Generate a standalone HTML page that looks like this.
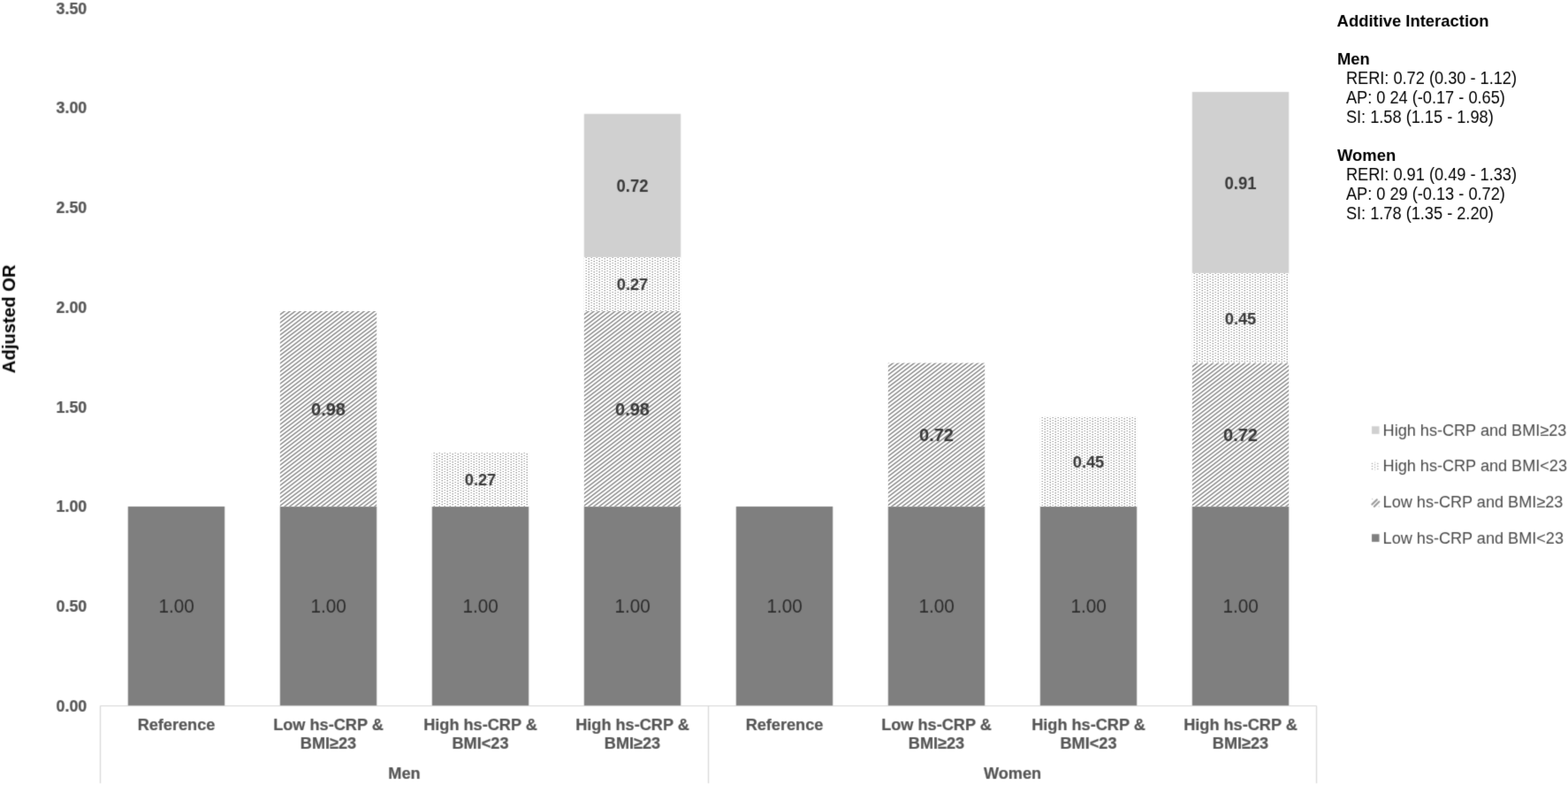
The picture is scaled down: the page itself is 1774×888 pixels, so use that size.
<!DOCTYPE html>
<html lang="en">
<head>
<meta charset="utf-8">
<title>Adjusted OR by hs-CRP and BMI</title>
<style>
html,body{margin:0;padding:0;background:#fff;}
body{width:1774px;height:888px;overflow:hidden;}
svg{display:block;}
text{font-family:"Liberation Sans",sans-serif;}
.ax{font-size:19.0px;font-weight:bold;fill:#555555;text-anchor:end;stroke:#555555;stroke-width:0.22px;}
.cat{font-size:18.8px;font-weight:bold;fill:#555555;text-anchor:middle;stroke:#555555;stroke-width:0.22px;}
.lh{font-size:20.9px;font-weight:bold;fill:#383838;text-anchor:middle;}
.ld{font-size:19.1px;font-weight:bold;fill:#383838;text-anchor:middle;}
.ll{font-size:19.8px;font-weight:bold;fill:#383838;text-anchor:middle;}
.one{font-size:22.0px;font-weight:normal;fill:#2b2b2b;text-anchor:middle;}
.leg{font-size:18.2px;font-weight:normal;fill:#484848;text-anchor:start;}
.rt{font-size:19.4px;font-weight:normal;fill:#000;text-anchor:start;}
.rtb{font-size:19.0px;font-weight:bold;fill:#000;text-anchor:start;}
.yt{font-size:20.3px;font-weight:bold;fill:#000;text-anchor:middle;}
</style>
</head>
<body>
<svg width="1774" height="888" viewBox="0 0 1774 888">
<defs>
<filter id="soft" x="0" y="0" width="1774" height="888" filterUnits="userSpaceOnUse" color-interpolation-filters="sRGB"><feConvolveMatrix order="3" kernelMatrix="0.02768 0.11101 0.02768 0.11101 0.44521 0.11101 0.02768 0.11101 0.02768" divisor="1" edgeMode="duplicate" preserveAlpha="true"/></filter>
<filter id="softp" x="0" y="0" width="1774" height="888" filterUnits="userSpaceOnUse" color-interpolation-filters="sRGB"><feConvolveMatrix order="3" kernelMatrix="0.00276 0.04704 0.00276 0.04704 0.80077 0.04704 0.00276 0.04704 0.00276" divisor="1" edgeMode="duplicate" preserveAlpha="false"/></filter>
<filter id="softt" x="0" y="0" width="1774" height="888" filterUnits="userSpaceOnUse" color-interpolation-filters="sRGB"><feConvolveMatrix order="3" kernelMatrix="0.01917 0.10012 0.01917 0.10012 0.52283 0.10012 0.01917 0.10012 0.01917" divisor="1" edgeMode="duplicate" preserveAlpha="false"/></filter>
<filter id="softr" x="0" y="0" width="1774" height="888" filterUnits="userSpaceOnUse" color-interpolation-filters="sRGB"><feConvolveMatrix order="3" kernelMatrix="0.00524 0.06192 0.00524 0.06192 0.73137 0.06192 0.00524 0.06192 0.00524" divisor="1" edgeMode="duplicate" preserveAlpha="false"/></filter>
<pattern id="hatch" width="12" height="23" patternUnits="userSpaceOnUse" patternTransform="translate(-0.9 0)">
<rect width="12" height="23" fill="#fff"/>
<path d="M-6,4.60 L6,-4.6 M-6,9.20 L12,-4.6 M-6,13.80 L18,-4.6 M-6,18.40 L24,-4.6 M-6,23.00 L30,-4.6 M-6,27.60 L36,-4.6 M-6,32.20 L42,-4.6 M-6,36.80 L48,-4.6" stroke="#969696" stroke-width="1.62" fill="none"/>
</pattern>
<pattern id="dots" width="6" height="3" patternUnits="userSpaceOnUse">
<rect width="6" height="3" fill="#fff"/>
<rect x="1.45" y="-0.05" width="1.5" height="1.15" rx="0.4" fill="#a2a2a2"/>
<rect x="4.5" y="1.1" width="1.35" height="1.3" rx="0.4" fill="#8e8e8e"/>
</pattern>
</defs>
<g filter="url(#soft)">
<rect width="1774" height="888" fill="#fff"/>
<rect x="144.8" y="573.0" width="109.4" height="225.5" fill="#7f7f7f"/>
<rect x="316.8" y="573.0" width="109.4" height="225.5" fill="#7f7f7f"/>
<rect x="488.8" y="573.0" width="109.4" height="225.5" fill="#7f7f7f"/>
<rect x="660.8" y="573.0" width="109.4" height="225.5" fill="#7f7f7f"/>
<rect x="660.8" y="128.8" width="109.4" height="162.4" fill="#d0d0d0"/>
<rect x="832.8" y="573.0" width="109.4" height="225.5" fill="#7f7f7f"/>
<rect x="1004.8" y="573.0" width="109.4" height="225.5" fill="#7f7f7f"/>
<rect x="1176.8" y="573.0" width="109.4" height="225.5" fill="#7f7f7f"/>
<rect x="1348.8" y="573.0" width="109.4" height="225.5" fill="#7f7f7f"/>
<rect x="1348.8" y="104.0" width="109.4" height="205.2" fill="#d0d0d0"/>
<path d="M113.5,798.5 H1489.5 M113.5,798.5 V886 M801.5,798.5 V886 M1489.5,798.5 V886" stroke="#d4d4d4" stroke-width="1.2" fill="none"/>
<rect x="1552" y="482.2" width="8.5" height="8.7" fill="#d0d0d0"/>
<rect x="1552" y="604.2" width="8.5" height="8.7" fill="#7f7f7f"/>
</g>
<g filter="url(#softp)">
<g transform="translate(317 352)"><rect x="-0.2" y="0.0" width="109.4" height="221.0" fill="url(#hatch)"/></g>
<g transform="translate(489 512)"><rect x="-0.2" y="0.1" width="109.4" height="60.9" fill="url(#dots)"/></g>
<g transform="translate(661 352)"><rect x="-0.2" y="0.0" width="109.4" height="221.0" fill="url(#hatch)"/></g>
<g transform="translate(661 291)"><rect x="-0.2" y="0.1" width="109.4" height="60.9" fill="url(#dots)"/></g>
<g transform="translate(1005 411)"><rect x="-0.2" y="-0.4" width="109.4" height="162.4" fill="url(#hatch)"/></g>
<g transform="translate(1177 472)"><rect x="-0.2" y="-0.5" width="109.4" height="101.5" fill="url(#dots)"/></g>
<g transform="translate(1349 411)"><rect x="-0.2" y="-0.4" width="109.4" height="162.4" fill="url(#hatch)"/></g>
<g transform="translate(1349 309)"><rect x="-0.2" y="0.2" width="109.4" height="101.5" fill="url(#dots)"/></g>
</g>
<g filter="url(#softt)">
<text class="one" transform="translate(199.50 693.20) scale(0.94 1)">1.00</text>
<text class="one" transform="translate(371.50 693.20) scale(0.94 1)">1.00</text>
<text class="lh" transform="translate(371.50 469.61) scale(0.957 1)">0.98</text>
<text class="one" transform="translate(543.50 693.20) scale(0.94 1)">1.00</text>
<text class="ld" transform="translate(543.50 549.46) scale(0.957 1)">0.27</text>
<text class="one" transform="translate(715.50 693.20) scale(0.94 1)">1.00</text>
<text class="lh" transform="translate(715.50 469.61) scale(0.957 1)">0.98</text>
<text class="ld" transform="translate(715.50 328.47) scale(0.957 1)">0.27</text>
<text class="ll" transform="translate(715.50 217.10) scale(0.934 1)">0.72</text>
<text class="one" transform="translate(887.50 693.20) scale(0.94 1)">1.00</text>
<text class="one" transform="translate(1059.50 693.20) scale(0.94 1)">1.00</text>
<text class="lh" transform="translate(1059.50 498.92) scale(0.957 1)">0.72</text>
<text class="one" transform="translate(1231.50 693.20) scale(0.94 1)">1.00</text>
<text class="ld" transform="translate(1231.50 529.16) scale(0.957 1)">0.45</text>
<text class="one" transform="translate(1403.50 693.20) scale(0.94 1)">1.00</text>
<text class="lh" transform="translate(1403.50 498.92) scale(0.957 1)">0.72</text>
<text class="ld" transform="translate(1403.50 366.80) scale(0.957 1)">0.45</text>
<text class="ll" transform="translate(1403.50 213.71) scale(0.934 1)">0.91</text>
<text class="ax" transform="translate(98.30 804.80) scale(0.94 1)">0.00</text>
<text class="ax" transform="translate(98.30 692.05) scale(0.94 1)">0.50</text>
<text class="ax" transform="translate(98.30 579.30) scale(0.94 1)">1.00</text>
<text class="ax" transform="translate(98.30 466.55) scale(0.94 1)">1.50</text>
<text class="ax" transform="translate(98.30 353.80) scale(0.94 1)">2.00</text>
<text class="ax" transform="translate(98.30 241.05) scale(0.94 1)">2.50</text>
<text class="ax" transform="translate(98.30 128.30) scale(0.94 1)">3.00</text>
<text class="ax" transform="translate(98.30 15.55) scale(0.94 1)">3.50</text>
<text class="cat" transform="translate(199.50 826.20) scale(0.965 1)">Reference</text>
<text class="cat" transform="translate(371.50 826.20) scale(0.965 1)">Low hs-CRP &amp;</text>
<text class="cat" transform="translate(371.50 847.40) scale(0.965 1)">BMI≥23</text>
<text class="cat" transform="translate(543.50 826.20) scale(0.965 1)">High hs-CRP &amp;</text>
<text class="cat" transform="translate(543.50 847.40) scale(0.965 1)">BMI&lt;23</text>
<text class="cat" transform="translate(715.50 826.20) scale(0.965 1)">High hs-CRP &amp;</text>
<text class="cat" transform="translate(715.50 847.40) scale(0.965 1)">BMI≥23</text>
<text class="cat" transform="translate(887.50 826.20) scale(0.965 1)">Reference</text>
<text class="cat" transform="translate(1059.50 826.20) scale(0.965 1)">Low hs-CRP &amp;</text>
<text class="cat" transform="translate(1059.50 847.40) scale(0.965 1)">BMI≥23</text>
<text class="cat" transform="translate(1231.50 826.20) scale(0.965 1)">High hs-CRP &amp;</text>
<text class="cat" transform="translate(1231.50 847.40) scale(0.965 1)">BMI&lt;23</text>
<text class="cat" transform="translate(1403.50 826.20) scale(0.965 1)">High hs-CRP &amp;</text>
<text class="cat" transform="translate(1403.50 847.40) scale(0.965 1)">BMI≥23</text>
<text class="cat" transform="translate(457.50 880.50) scale(0.965 1)">Men</text>
<text class="cat" transform="translate(1145.50 880.50) scale(0.965 1)">Women</text>
<text class="yt" transform="translate(17.00 360.80) rotate(-90)">Adjusted OR</text>
<text class="leg" transform="translate(1564.60 492.70) scale(0.995 1)">High hs-CRP and BMI≥23</text>
<g transform="translate(1552 522.2)" fill="#9a9a9a"><circle cx="0.5" cy="2.2" r="0.72"/><circle cx="0.5" cy="5.2" r="0.72"/><circle cx="0.5" cy="8.3" r="0.72"/><circle cx="6.8" cy="2.2" r="0.72"/><circle cx="6.8" cy="5.2" r="0.72"/><circle cx="6.8" cy="8.3" r="0.72"/><circle cx="3.6" cy="0.9" r="0.72" fill-opacity="0.6"/><circle cx="3.6" cy="3.6" r="0.72" fill-opacity="0.85"/><circle cx="3.6" cy="6.5" r="0.72" fill-opacity="0.85"/><circle cx="3.6" cy="9.2" r="0.72" fill-opacity="0.4"/></g>
<text class="leg" transform="translate(1564.60 532.80) scale(0.995 1)">High hs-CRP and BMI&lt;23</text>
<g transform="translate(1552 564.0)" stroke="#9a9a9a" stroke-width="2.1" stroke-linecap="round" fill="none"><path d="M0.3,6.6 L5.8,1.2 M2.8,8.9 L8.3,3.6"/><path d="M0.5,0.6 l0.2,-0.2 M8.1,9.0 l0.2,-0.2" stroke="#c4c4c4" stroke-width="1.2"/></g>
<text class="leg" transform="translate(1564.60 573.90) scale(0.995 1)">Low hs-CRP and BMI≥23</text>
<text class="leg" transform="translate(1564.60 614.60) scale(0.995 1)">Low hs-CRP and BMI&lt;23</text>
</g>
<g filter="url(#softr)">
<text class="rtb" transform="translate(1512.60 30.17) scale(0.97 1)">Additive Interaction</text>
<text class="rtb" transform="translate(1513.00 73.39) scale(0.97 1)">Men</text>
<text class="rt" transform="translate(1522.90 95.20) scale(0.938 1)">RERI: 0.72 (0.30 - 1.12)</text>
<text class="rt" transform="translate(1522.90 117.01) scale(0.938 1)">AP: 0 24 (-0.17 - 0.65)</text>
<text class="rt" transform="translate(1522.90 138.82) scale(0.938 1)">SI: 1.58 (1.15 - 1.98)</text>
<text class="rtb" transform="translate(1513.00 182.44) scale(0.97 1)">Women</text>
<text class="rt" transform="translate(1522.90 204.25) scale(0.938 1)">RERI: 0.91 (0.49 - 1.33)</text>
<text class="rt" transform="translate(1522.90 226.06) scale(0.938 1)">AP: 0 29 (-0.13 - 0.72)</text>
<text class="rt" transform="translate(1522.90 247.87) scale(0.938 1)">SI: 1.78 (1.35 - 2.20)</text>
</g>
</svg>
</body>
</html>
